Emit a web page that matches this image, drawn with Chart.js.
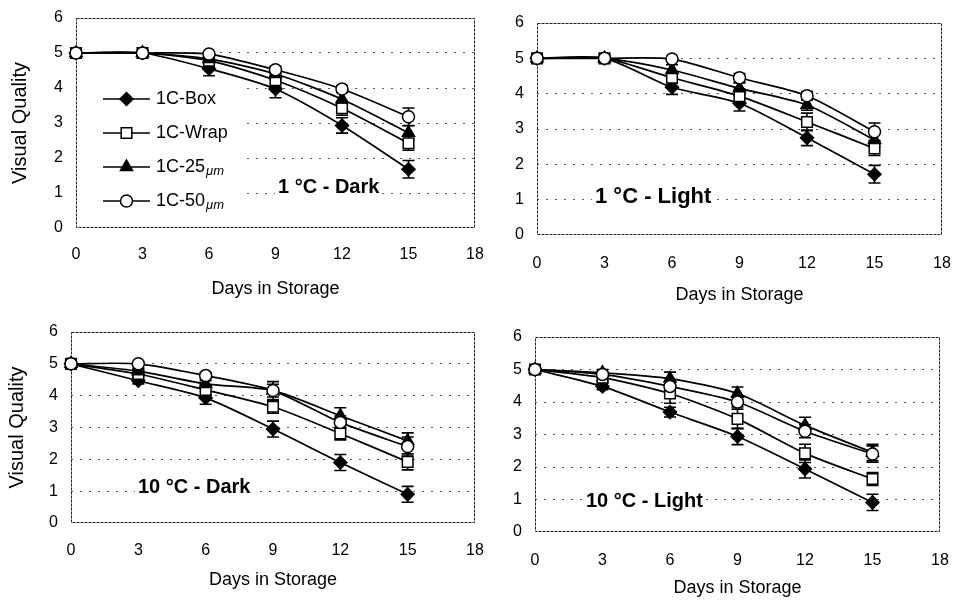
<!DOCTYPE html>
<html>
<head>
<meta charset="utf-8">
<script src="https://cdn.jsdelivr.net/npm/chart.js@4/dist/chart.umd.min.js"></script>
<style>
html,body{margin:0;padding:0;background:#fff;}
body{width:954px;height:600px;position:relative;overflow:hidden;}
canvas{position:absolute;}
</style>
</head>
<body>
<canvas id="p1"></canvas>
<canvas id="p2"></canvas>
<canvas id="p3"></canvas>
<canvas id="p4"></canvas>
<script>
// ---------- data ----------
const days = [0, 3, 6, 9, 12, 15];
const xTicks = [0, 3, 6, 9, 12, 15, 18];
const yTicks = [0, 1, 2, 3, 4, 5, 6];
const seriesNames = ['1C-Box', '1C-Wrap', '1C-25μm', '1C-50μm'];
const legendMain = ['1C-Box', '1C-Wrap', '1C-25', '1C-50'];
const legendUnit = ['', '', 'μm', 'μm'];
const panelTitles = ['1 °C - Dark', '1 °C - Light', '10 °C - Dark', '10 °C - Light'];
const xTitle = 'Days in Storage';
const yTitle = 'Visual Quality';

// 1 °C - Dark
const dark1Box    = [5, 5, 4.55, 3.97, 2.93, 1.68];
const dark1Wrap   = [5, 5, 4.78, 4.22, 3.42, 2.42];
const dark1F25    = [5, 5, 4.83, 4.40, 3.68, 2.72];
const dark1F50    = [5, 5, 4.97, 4.52, 3.97, 3.18];
const dark1BoxErr = [0, 0, 0.20, 0.25, 0.22, 0.25];
const dark1WrapErr= [0, 0, 0.15, 0.20, 0.20, 0.20];
const dark1F25Err = [0, 0, 0.10, 0.15, 0.20, 0.20];
const dark1F50Err = [0, 0, 0.05, 0.10, 0.10, 0.25];

// 1 °C - Light
const light1Box    = [5, 5, 4.18, 3.73, 2.75, 1.72];
const light1Wrap   = [5, 5, 4.45, 3.93, 3.20, 2.45];
const light1F25    = [5, 5, 4.67, 4.15, 3.68, 2.69];
const light1F50    = [5, 5, 4.98, 4.45, 3.94, 2.92];
const light1BoxErr = [0, 0, 0.20, 0.22, 0.22, 0.25];
const light1WrapErr= [0, 0, 0.15, 0.20, 0.25, 0.20];
const light1F25Err = [0, 0, 0.15, 0.15, 0.15, 0.20];
const light1F50Err = [0, 0, 0.05, 0.12, 0.12, 0.25];

// 10 °C - Dark
const dark10Box    = [5, 4.47, 3.93, 2.95, 1.90, 0.90];
const dark10Wrap   = [5, 4.68, 4.18, 3.65, 2.81, 1.92];
const dark10F25    = [5, 4.77, 4.37, 4.16, 3.37, 2.58];
const dark10F50    = [5, 5.00, 4.63, 4.16, 3.16, 2.40];
const dark10BoxErr = [0, 0.10, 0.20, 0.25, 0.25, 0.25];
const dark10WrapErr= [0, 0.10, 0.15, 0.20, 0.20, 0.25];
const dark10F25Err = [0, 0.10, 0.10, 0.20, 0.25, 0.25];
const dark10F50Err = [0, 0.05, 0.10, 0.28, 0.20, 0.30];

// 10 °C - Light
const light10Box    = [5, 4.48, 3.69, 2.94, 1.94, 0.91];
const light10Wrap   = [5, 4.75, 4.26, 3.48, 2.42, 1.63];
const light10F25    = [5, 4.90, 4.72, 4.26, 3.28, 2.45];
const light10F50    = [5, 4.85, 4.48, 4.00, 3.10, 2.40];
const light10BoxErr = [0, 0.10, 0.15, 0.25, 0.28, 0.25];
const light10WrapErr= [0, 0.10, 0.30, 0.30, 0.28, 0.20];
const light10F25Err = [0, 0.10, 0.20, 0.20, 0.25, 0.25];
const light10F50Err = [0, 0.05, 0.15, 0.15, 0.20, 0.25];

// ---------- styling ----------
const FONT = '"Liberation Sans", Arial, Helvetica, sans-serif';
const markerStyles = [
  {style: 'rectRot',  r: 6.5, fill: '#000'},
  {style: 'rect',     r: 7.5, fill: '#fff'},
  {style: 'triangle', r: 7,   fill: '#000'},
  {style: 'circle',   r: 6,   fill: '#fff'}
];

function drawMarker(ctx, k, x, y) {
  const m = markerStyles[k];
  ctx.save();
  ctx.fillStyle = m.fill;
  ctx.strokeStyle = '#000';
  ctx.lineWidth = 1.5;
  ctx.setLineDash([]);
  Chart.helpers.drawPoint(ctx, {pointStyle: m.style, radius: m.r, borderWidth: 1.5, rotation: 0}, x, y);
  ctx.restore();
}

const decoPlugin = {
  id: 'panelDeco',
  beforeDatasetsDraw(chart) {
    const cfg = chart.options.plugins.panelDeco;
    const {ctx, chartArea: a, scales: {x, y}} = chart;
    ctx.save();
    ctx.fillStyle = '#fff';
    ctx.font = 'bold ' + cfg.titleSize + 'px ' + FONT;
    const tw = ctx.measureText(cfg.title).width;
    ctx.fillRect(cfg.titleX - 3, cfg.titleY - cfg.titleSize, tw + 6, cfg.titleSize + 6);
    if (cfg.legend) {
      const L = cfg.legend;
      ctx.fillRect(a.left + 1, L.top - 18, L.boxRight - a.left - 1, L.gap * 3 + 36);
    }
    ctx.strokeStyle = '#222';
    ctx.lineWidth = 1;
    ctx.setLineDash([3, 1]);
    ctx.strokeRect(a.left + 0.5, a.top + 0.5, a.width - 1, a.height - 1);
    ctx.setLineDash([]);
    ctx.strokeStyle = '#000';
    ctx.lineWidth = 1.6;
    chart.data.datasets.forEach(ds => {
      ds.errors.forEach((e, i) => {
        if (!e) return;
        const v = ds.data[i].y;
        const px = x.getPixelForValue(ds.data[i].x);
        const y1 = y.getPixelForValue(v + e);
        const y2 = y.getPixelForValue(v - e);
        ctx.beginPath();
        ctx.moveTo(px, y1); ctx.lineTo(px, y2);
        ctx.moveTo(px - 6, y1); ctx.lineTo(px + 6, y1);
        ctx.moveTo(px - 6, y2); ctx.lineTo(px + 6, y2);
        ctx.stroke();
      });
    });
    ctx.restore();
  },
  afterDraw(chart) {
    const cfg = chart.options.plugins.panelDeco;
    const {ctx} = chart;
    ctx.save();
    ctx.fillStyle = '#000';
    ctx.textBaseline = 'alphabetic';
    ctx.textAlign = 'left';
    ctx.font = 'bold ' + cfg.titleSize + 'px ' + FONT;
    ctx.fillText(cfg.title, cfg.titleX, cfg.titleY);
    if (cfg.legend) {
      const L = cfg.legend;
      legendMain.forEach((t, k) => {
        const cy = L.top + k * L.gap;
        ctx.strokeStyle = '#000';
        ctx.lineWidth = 1.6;
        ctx.beginPath();
        ctx.moveTo(L.lineX0, cy); ctx.lineTo(L.lineX1, cy);
        ctx.stroke();
        drawMarker(ctx, k, (L.lineX0 + L.lineX1) / 2, cy);
        ctx.fillStyle = '#000';
        ctx.font = '18px ' + FONT;
        ctx.textBaseline = 'middle';
        ctx.fillText(t, L.textX, cy);
        if (legendUnit[k]) {
          const w = ctx.measureText(t).width;
          ctx.font = 'italic 13px ' + FONT;
          ctx.fillText(legendUnit[k], L.textX + w + 1, cy + 4);
        }
      });
    }
    ctx.restore();
  }
};

function buildPanel(id, rect, area, values, errors, deco) {
  const cv = document.getElementById(id);
  cv.width = rect.w; cv.height = rect.h;
  cv.style.left = rect.x + 'px'; cv.style.top = rect.y + 'px';
  const yW = area.l - rect.x;
  const xH = rect.y + rect.h - area.b;
  return new Chart(cv, {
    type: 'line',
    data: {
      datasets: values.map((vals, k) => ({
        label: seriesNames[k],
        data: days.map((d, i) => ({x: d, y: vals[i]})),
        errors: errors[k],
        borderColor: '#000',
        borderWidth: 1.7,
        tension: 0.25,
        fill: false,
        clip: false,
        pointStyle: markerStyles[k].style,
        pointRadius: markerStyles[k].r,
        pointBackgroundColor: markerStyles[k].fill,
        pointBorderColor: '#000',
        pointBorderWidth: 1.5
      })).reverse()
    },
    options: {
      responsive: false,
      animation: false,
      devicePixelRatio: 1,
      events: [],
      layout: {padding: {left: 0, top: area.t - rect.y, right: rect.x + rect.w - area.r, bottom: 0}},
      plugins: {legend: {display: false}, tooltip: {enabled: false}, panelDeco: deco},
      scales: {
        x: {
          type: 'linear', min: 0, max: 18,
          afterBuildTicks: s => { s.ticks = xTicks.map(v => ({value: v})); },
          grid: {display: false, drawTicks: false},
          border: {display: false},
          ticks: {color: '#000', font: {family: FONT, size: 16}, padding: deco.xTickPad, maxRotation: 0, autoSkip: false},
          title: {display: true, text: xTitle, color: '#000', font: {family: FONT, size: 18}, padding: {top: 0, bottom: deco.xTitlePad}},
          afterFit: s => { s.height = xH; s.paddingLeft = 0; s.paddingRight = 0; }
        },
        y: {
          type: 'linear', min: 0, max: 6,
          afterBuildTicks: s => { s.ticks = yTicks.map(v => ({value: v})); },
          grid: {drawTicks: false, lineWidth: 1,
                 color: c => (c.tick && (c.tick.value === 0 || c.tick.value === 6)) ? 'rgba(0,0,0,0)' : '#555'},
          border: {display: false, dash: [2, 7]},
          ticks: {color: '#000', font: {family: FONT, size: 16}, padding: 13},
          title: {display: deco.yTitle, text: yTitle, color: '#000', font: {family: FONT, size: 20}, padding: {top: deco.yTitlePad, bottom: 0}},
          afterFit: s => { s.width = yW; s.paddingTop = 0; s.paddingBottom = 0; }
        }
      }
    },
    plugins: [decoPlugin]
  });
}

buildPanel('p1', {x: 0, y: 0, w: 490, h: 300}, {l: 76, t: 18, r: 475, b: 228},
  [dark1Box, dark1Wrap, dark1F25, dark1F50], [dark1BoxErr, dark1WrapErr, dark1F25Err, dark1F50Err],
  {title: panelTitles[0], titleX: 278, titleY: 193, titleSize: 20, yTitle: true, yTitlePad: 8, xTickPad: 17, xTitlePad: 0,
   legend: {top: 99, gap: 34, lineX0: 103, lineX1: 150, textX: 156, boxRight: 245}});

buildPanel('p2', {x: 480, y: 0, w: 474, h: 310}, {l: 537, t: 23, r: 942, b: 235},
  [light1Box, light1Wrap, light1F25, light1F50], [light1BoxErr, light1WrapErr, light1F25Err, light1F50Err],
  {title: panelTitles[1], titleX: 115, titleY: 203, titleSize: 22, yTitle: false, yTitlePad: 0, xTickPad: 19, xTitlePad: 4});

buildPanel('p3', {x: 0, y: 300, w: 490, h: 300}, {l: 71, t: 332, r: 475, b: 523},
  [dark10Box, dark10Wrap, dark10F25, dark10F50], [dark10BoxErr, dark10WrapErr, dark10F25Err, dark10F50Err],
  {title: panelTitles[2], titleX: 138, titleY: 193, titleSize: 20, yTitle: true, yTitlePad: 5, xTickPad: 18, xTitlePad: 9});

buildPanel('p4', {x: 480, y: 300, w: 474, h: 300}, {l: 535, t: 337, r: 940, b: 532},
  [light10Box, light10Wrap, light10F25, light10F50], [light10BoxErr, light10WrapErr, light10F25Err, light10F50Err],
  {title: panelTitles[3], titleX: 106, titleY: 207, titleSize: 20, yTitle: false, yTitlePad: 0, xTickPad: 19, xTitlePad: 1});
</script>
</body>
</html>
